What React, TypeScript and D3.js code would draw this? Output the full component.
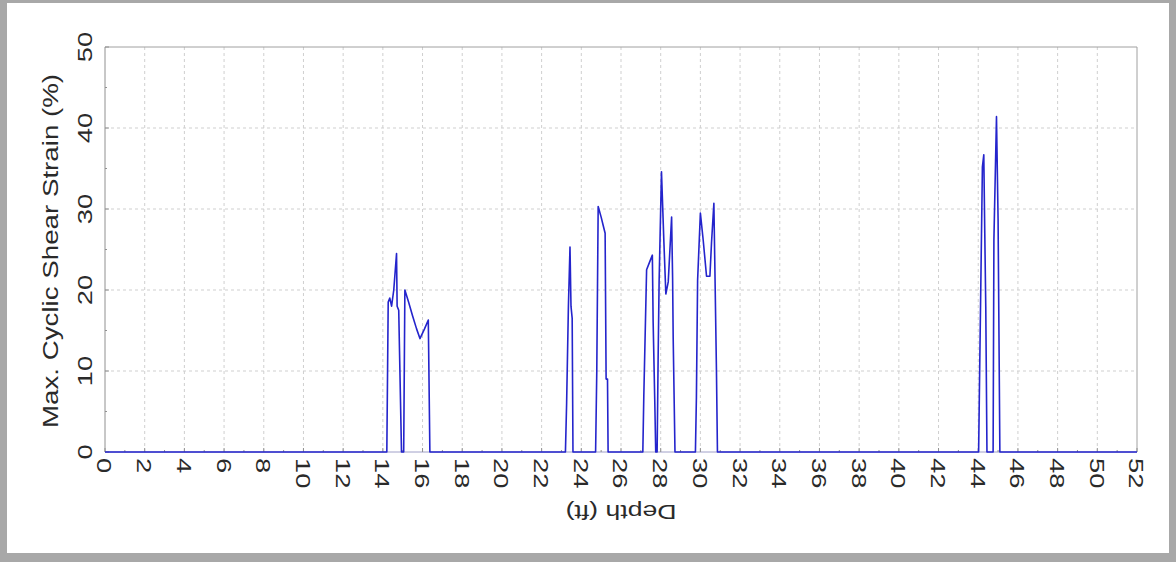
import React from "react";
import * as d3 from "d3";

const depthFt = [0, 14.2, 14.27, 14.35, 14.44, 14.55, 14.69, 14.72, 14.8, 14.94, 15.05, 15.11, 15.3, 15.5, 15.7, 15.87, 16.1, 16.29, 16.37,
  23.2, 23.26, 23.35, 23.43, 23.48, 23.54, 23.58,
  24.72, 24.78, 24.85, 25.0, 25.1, 25.2, 25.25, 25.32, 25.35,
  27.1, 27.15, 27.29, 27.45, 27.58, 27.62, 27.7, 27.75,
  27.82, 27.87, 27.92, 28.04, 28.16, 28.26, 28.38, 28.55, 28.6, 28.63, 28.72,
  29.75, 29.8, 29.86, 30.0, 30.14, 30.31, 30.48, 30.56, 30.68, 30.81, 30.86,
  44.02, 44.08, 44.21, 44.28, 44.33, 44.38, 44.44,
  44.75, 44.79, 44.92, 45.0, 45.09, 52];
const strainPct = [0, 0, 18.5, 19, 18, 20, 24.5, 18, 17.5, 0, 0, 20, 18.5, 16.8, 15.2, 14, 15.2, 16.3, 0,
  0, 6, 18, 25.3, 18, 16.5, 0,
  0, 10, 30.3, 29, 28, 27, 9, 9, 0,
  0, 7, 22.5, 23.5, 24.3, 16, 6.5, 0,
  0, 11.4, 21, 34.6, 26, 19.5, 21, 29, 21.5, 14, 0,
  0, 6.8, 21.2, 29.5, 26.2, 21.7, 21.7, 25.8, 30.7, 10, 0,
  0, 11.4, 35.2, 36.7, 27, 17.9, 0,
  0, 26.2, 41.4, 28.8, 0, 0];

const xTicks = d3.range(0, 53, 2);
const yTicks = [0, 10, 20, 30, 40, 50];
const xTitle = "Depth (ft)";
const yTitle = "Max. Cyclic Shear Strain (%)";

const W = 1176, H = 562;
const M = { left: 105, right: 1137, top: 47, bottom: 452 };
const FONT = "'Liberation Sans', Arial, sans-serif";

export default function App() {
  const x = d3.scaleLinear().domain([0, 52]).range([M.left, M.right]);
  const y = d3.scaleLinear().domain([0, 50]).range([M.bottom, M.top]);
  const pts = depthFt.map((d, i) => [d, strainPct[i]] as [number, number]);
  const line = d3.line<[number, number]>().x(d => x(d[0])).y(d => y(d[1]));
  const xMinor = d3.range(1, 52, 2);
  const yMinor = d3.range(5, 50, 10);
  return (
    <div style={{ position: "fixed", left: 0, top: 0 }}>
      <svg width={W} height={H} style={{ display: "block" }}>
        <rect x={0} y={0} width={W} height={H} fill="#a8a8a8" />
        <rect x={7} y={3} width={1162} height={550} fill="#ffffff" />
        {xTicks.filter(t => t > 0 && t < 52).map(t => (
          <line key={"gx" + t} x1={x(t)} x2={x(t)} y1={M.top} y2={M.bottom} stroke="#cfcfcf" strokeDasharray="3,3" />
        ))}
        {yTicks.filter(t => t > 0 && t < 50).map(t => (
          <line key={"gy" + t} x1={M.left} x2={M.right} y1={y(t)} y2={y(t)} stroke="#cfcfcf" strokeDasharray="3,3" />
        ))}
        <line x1={M.left} x2={M.right} y1={M.top} y2={M.top} stroke="#a0a0a0" />
        <line x1={M.right} x2={M.right} y1={M.top} y2={M.bottom} stroke="#a0a0a0" />
        <line x1={M.left} x2={M.left} y1={M.top} y2={M.bottom} stroke="#909090" />
        <line x1={M.left} x2={M.right} y1={M.bottom} y2={M.bottom} stroke="#a0a0c8" />
        {xTicks.map(t => (
          <line key={"tx" + t} x1={x(t)} x2={x(t)} y1={M.bottom} y2={M.bottom - 4} stroke="#909090" />
        ))}
        {xMinor.map(t => (
          <line key={"mx" + t} x1={x(t)} x2={x(t)} y1={M.bottom} y2={M.bottom - 2} stroke="#909090" />
        ))}
        {yTicks.map(t => (
          <line key={"ty" + t} x1={M.left} x2={M.left + 4} y1={y(t)} y2={y(t)} stroke="#909090" />
        ))}
        {yMinor.map(t => (
          <line key={"my" + t} x1={M.left} x2={M.left + 2} y1={y(t)} y2={y(t)} stroke="#909090" />
        ))}
        <path d={line(pts) || ""} fill="none" stroke="#2424cc" strokeWidth={1.6} strokeLinejoin="round" />
        {xTicks.map(t => (
          <text key={"lx" + t} transform={`translate(${x(t)},${M.bottom + 6}) rotate(90) scale(1.3,1)`} dy="0.36em"
            textAnchor="start" fontFamily={FONT} fontSize={21} fill="#2a2a2a">{t}</text>
        ))}
        {yTicks.map(t => (
          <text key={"ly" + t} transform={`translate(${92},${y(t)}) rotate(-90) scale(1.3,1)`}
            textAnchor="middle" fontFamily={FONT} fontSize={21} fill="#2a2a2a">{t}</text>
        ))}
        <text transform={`translate(${621},${505}) rotate(180) scale(1.33,1)`} textAnchor="middle"
          fontFamily={FONT} fontSize={20} fill="#2a2a2a">{xTitle}</text>
        <text transform={`translate(${58},${251}) rotate(-90) scale(1.26,1)`} textAnchor="middle"
          fontFamily={FONT} fontSize={22} fill="#2a2a2a">{yTitle}</text>
      </svg>
    </div>
  );
}
